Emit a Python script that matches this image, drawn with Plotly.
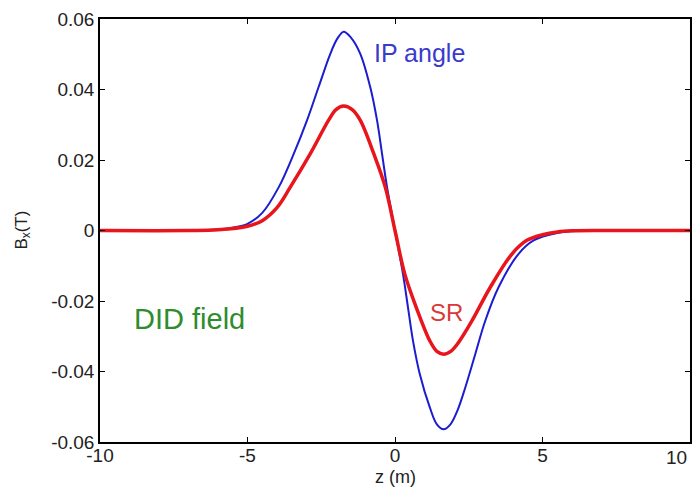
import plotly.graph_objects as go

# IP angle (blue) readings
z_ip = [-10, -7, -6, -5.5, -5, -4.5, -3.94, -3.43, -2.98, -2.59, -2.19, -1.95, -1.74, -1.5, -1.18, -0.84, -0.61, -0.44, -0.27, 0,
        0.27, 0.44, 0.61, 0.84, 1.18, 1.42, 1.65, 1.88, 2.12, 2.38, 2.72, 3.06, 3.51, 4.19, 4.7, 5.5, 6, 7, 10]
b_ip = [0, 0, 0.0003, 0.0008, 0.0019, 0.005, 0.0123, 0.0218, 0.0313, 0.0407, 0.0502, 0.0545, 0.0564, 0.0548, 0.0502, 0.0407, 0.0313, 0.0218, 0.0123, 0,
        -0.0123, -0.0218, -0.0313, -0.0407, -0.0502, -0.0550, -0.0564, -0.0550, -0.0510, -0.0446, -0.0351, -0.0256, -0.0161, -0.0066, -0.0028, -0.0007, -0.0002, 0, 0]

# SR (red) readings
z_sr = [-10, -7, -6, -5, -4.5, -4.0, -3.55, -2.87, -2.25, -2.0, -1.74, -1.45, -1.18, -0.72, -0.33, 0,
        0.33, 0.72, 1.18, 1.42, 1.65, 1.9, 2.15, 2.61, 3.23, 3.97, 4.47, 5, 5.5, 6, 7, 10]
b_sr = [0, 0, 0.0002, 0.0012, 0.0028, 0.0065, 0.0123, 0.0218, 0.0313, 0.0343, 0.0353, 0.0343, 0.0313, 0.0218, 0.0123, 0,
        -0.0123, -0.0218, -0.0313, -0.0343, -0.0351, -0.0342, -0.0318, -0.0256, -0.0161, -0.0066, -0.0028, -0.0012, -0.0004, -0.0001, 0, 0]

x_ticks = [-10, -5, 0, 5, 10]
x_tick_labels = ["-10", "-5", "0", "5", "10"]
y_ticks = [0.06, 0.04, 0.02, 0, -0.02, -0.04, -0.06]
y_tick_labels = ["0.06", "0.04", "0.02", "0", "-0.02", "-0.04", "-0.06"]

FONT = "Liberation Sans, Arial, sans-serif"
TICKFONT = dict(family=FONT, size=19, color="#222")

fig = go.Figure()
fig.add_trace(go.Scatter(x=z_ip, y=b_ip, mode="lines", name="IP angle",
                         line=dict(color="#1c1cd0", width=2, shape="spline", smoothing=1.0)))
fig.add_trace(go.Scatter(x=z_sr, y=b_sr, mode="lines", name="SR",
                         line=dict(color="#e8161c", width=3.5, shape="spline", smoothing=1.0)))

axis_common = dict(showline=True, linecolor="black", linewidth=1.5, mirror="ticks",
                   ticks="inside", ticklen=5, tickcolor="black", showgrid=False, zeroline=False,
                   automargin=False, ticklabeloverflow="allow", tickfont=TICKFONT)

# the last x label sits at the window's right edge; it is drawn right-aligned as an annotation below
fig.update_xaxes(range=[-10, 10], tickvals=x_ticks, ticktext=x_tick_labels[:-1] + [""],
                 ticklabelstandoff=-5, **axis_common)
fig.update_yaxes(range=[-0.06, 0.06], tickvals=y_ticks, ticktext=y_tick_labels, **axis_common)

fig.add_annotation(x=x_ticks[-1], y=-0.0355, xref="x", yref="paper", text=x_tick_labels[-1],
                   showarrow=False, xanchor="right", yanchor="middle", xshift=-1, font=TICKFONT)

fig.add_annotation(x=-0.78, y=0.0503, xref="x", yref="y", text="IP angle", showarrow=False,
                   xanchor="left", yanchor="middle", font=dict(family=FONT, size=25, color="#3a3acc"))
fig.add_annotation(x=1.73, y=-0.0232, xref="x", yref="y", text="SR", showarrow=False,
                   xanchor="center", yanchor="middle", font=dict(family=FONT, size=24, color="#d83a3a"))
fig.add_annotation(x=-8.92, y=-0.025, xref="x", yref="y", text="DID field", showarrow=False,
                   xanchor="left", yanchor="middle", font=dict(family=FONT, size=29, color="#2e8c2e"))
fig.add_annotation(x=-0.132, y=0.5, xref="paper", yref="paper", text="B<sub>x</sub>(T)", showarrow=False,
                   textangle=-90, xanchor="center", yanchor="middle",
                   font=dict(family=FONT, size=17, color="#222"))
fig.add_annotation(x=0.5, y=-0.082, xref="paper", yref="paper", text="z (m)", showarrow=False,
                   xanchor="center", yanchor="middle",
                   font=dict(family=FONT, size=18, color="#222"))

# page body has an 8px margin, so the figure is sized to fit the 700x488 window
fig.update_layout(width=692, height=480, showlegend=False,
                  plot_bgcolor="white", paper_bgcolor="white",
                  margin=dict(l=92, r=10, t=11, b=46))

fig.write_html("out.html")
